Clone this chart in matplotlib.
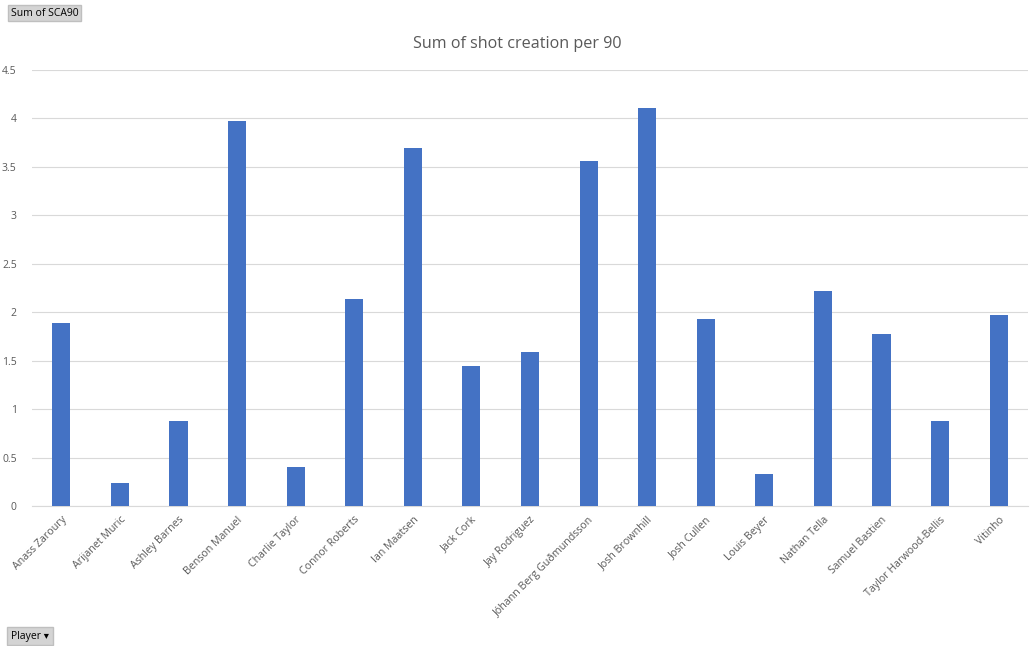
import matplotlib.pyplot as plt
import numpy as np

# data
players = ["Anass Zaroury", "Arijanet Muric", "Ashley Barnes", "Benson Manuel",
           "Charlie Taylor", "Connor Roberts", "Ian Maatsen", "Jack Cork",
           "Jay Rodriguez", "Jóhann Berg Guðmundsson", "Josh Brownhill",
           "Josh Cullen", "Louis Beyer", "Nathan Tella", "Samuel Bastien",
           "Taylor Harwood-Bellis", "Vitinho"]
sca90 = [1.89, 0.24, 0.88, 3.97, 0.40, 2.14, 3.70, 1.45, 1.59, 3.56, 4.11,
         1.93, 0.33, 2.22, 1.78, 0.88, 1.97]
y_ticks = [0, 0.5, 1, 1.5, 2, 2.5, 3, 3.5, 4, 4.5]
y_labels = ["0", "0.5", "1", "1.5", "2", "2.5", "3", "3.5", "4", "4.5"]

plt.rcParams['font.family'] = ['Open Sans', 'DejaVu Sans']
grey = "#595959"

fig = plt.figure(figsize=(10.35, 6.46), dpi=100)
ax = fig.add_axes([32 / 1035, 1 - 506 / 646, 996 / 1035, 436 / 646])

x = np.arange(len(players))
ax.bar(x, sca90, width=0.31, color="#4472C4", zorder=3)

ax.set_xlim(-0.5, len(players) - 0.5)
ax.set_ylim(0, 4.5)
ax.set_yticks(y_ticks)
ax.set_yticklabels(y_labels, fontsize=7.5, color=grey)
ax.set_xticks(x)
ax.set_xticklabels(players, rotation=45, ha="right", rotation_mode="anchor",
                   fontsize=7.7, color=grey)
ax.tick_params(axis="both", length=0)
ax.tick_params(axis="y", pad=11)
ax.tick_params(axis="x", pad=6)
ax.grid(axis="y", color="#D9D9D9", linewidth=0.8, zorder=0)
for s in ["top", "right", "left"]:
    ax.spines[s].set_visible(False)
ax.spines["bottom"].set_color("#D9D9D9")

fig.text(0.5, 1 - 44 / 646, "Sum of shot creation per 90", ha="center", va="center",
         fontsize=11.6, color=grey)

# pivot field buttons
fig.text(11 / 1035, 1 - 13 / 646, "Sum of SCA90", ha="left", va="center", fontsize=7.5,
         color="black",
         bbox=dict(boxstyle="square,pad=0.25", facecolor="#D4D4D4", edgecolor="#BFBFBF"))
fig.text(11 / 1035, 1 - 636 / 646, "Player \u25BE", ha="left", va="center", fontsize=7.5,
         color="black",
         bbox=dict(boxstyle="square,pad=0.35", facecolor="#D4D4D4", edgecolor="#BFBFBF"))

fig.savefig("out.png", dpi=100)
